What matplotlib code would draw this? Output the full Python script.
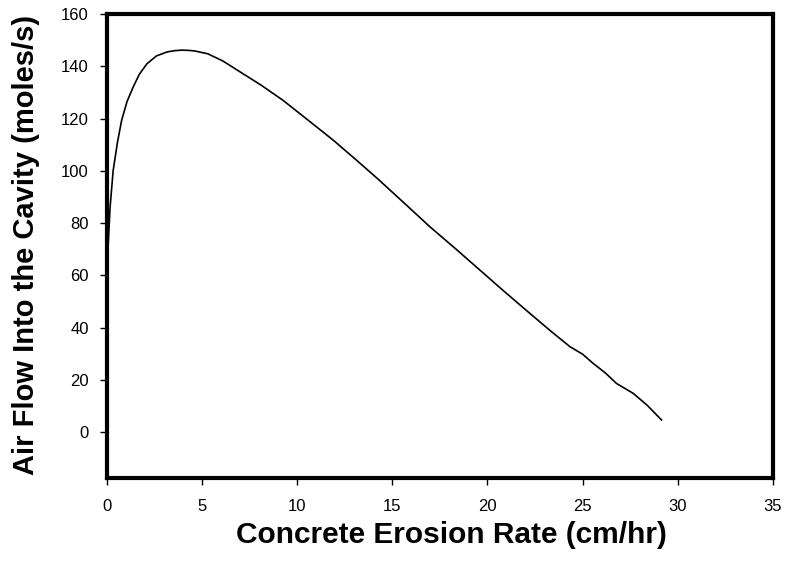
import matplotlib
matplotlib.use("Agg")
import matplotlib.pyplot as plt

plt.rcParams['font.family'] = ['Liberation Sans', 'DejaVu Sans']

erosion_rate = [0.0, 0.05, 0.16, 0.32, 0.55, 0.77, 1.05, 1.37, 1.7, 2.1, 2.6, 3.15, 3.55,
                3.93, 4.3, 4.6, 5.3, 6.1, 6.99, 8.1, 9.25, 10.5, 11.88, 13.0, 14.19, 15.6,
                16.97, 18.3, 19.6, 20.9, 22.23, 23.3, 24.33, 25.0, 25.55, 26.2, 26.78,
                27.66, 28.4, 29.15]
air_flow = [45.0, 70.0, 86.0, 100.0, 111.0, 119.4, 126.5, 132.0, 137.0, 141.0, 144.0, 145.5,
            146.0, 146.2, 146.1, 145.9, 144.8, 142.0, 137.9, 132.8, 127.0, 119.8, 111.8,
            104.8, 97.2, 87.8, 78.6, 70.3, 62.0, 53.7, 45.4, 38.8, 32.7, 29.8, 26.3, 22.6,
            18.6, 14.8, 10.2, 4.6]

x_ticks = [0, 5, 10, 15, 20, 25, 30, 35]
y_ticks = [0, 20, 40, 60, 80, 100, 120, 140, 160]

fig = plt.figure(figsize=(7.87, 5.64), dpi=100)
ax = fig.add_axes([0.136, 0.1525, 0.846, 0.8225])

ax.plot(erosion_rate, air_flow, color='black', linewidth=1.2, solid_joinstyle='round')

ax.set_xlim(0, 35)
ax.set_ylim(-17.6, 160)
ax.set_xticks(x_ticks)
ax.set_yticks(y_ticks)
ax.tick_params(axis='both', direction='out', length=5, width=1, labelsize=12,
               colors='black')
ax.tick_params(axis='x', pad=10)
ax.tick_params(axis='y', pad=8)
for s in ax.spines.values():
    s.set_linewidth(3)
    s.set_color('black')

ax.set_xlabel('Concrete Erosion Rate (cm/hr)', fontsize=21.5, fontweight='bold')
ax.set_ylabel('Air Flow Into the Cavity (moles/s)', fontsize=21, fontweight='bold')
ax.xaxis.set_label_coords(0.517, -0.092)
ax.yaxis.set_label_coords(-0.100, 0.502)

fig.savefig('out.png', dpi=100, facecolor='white')
